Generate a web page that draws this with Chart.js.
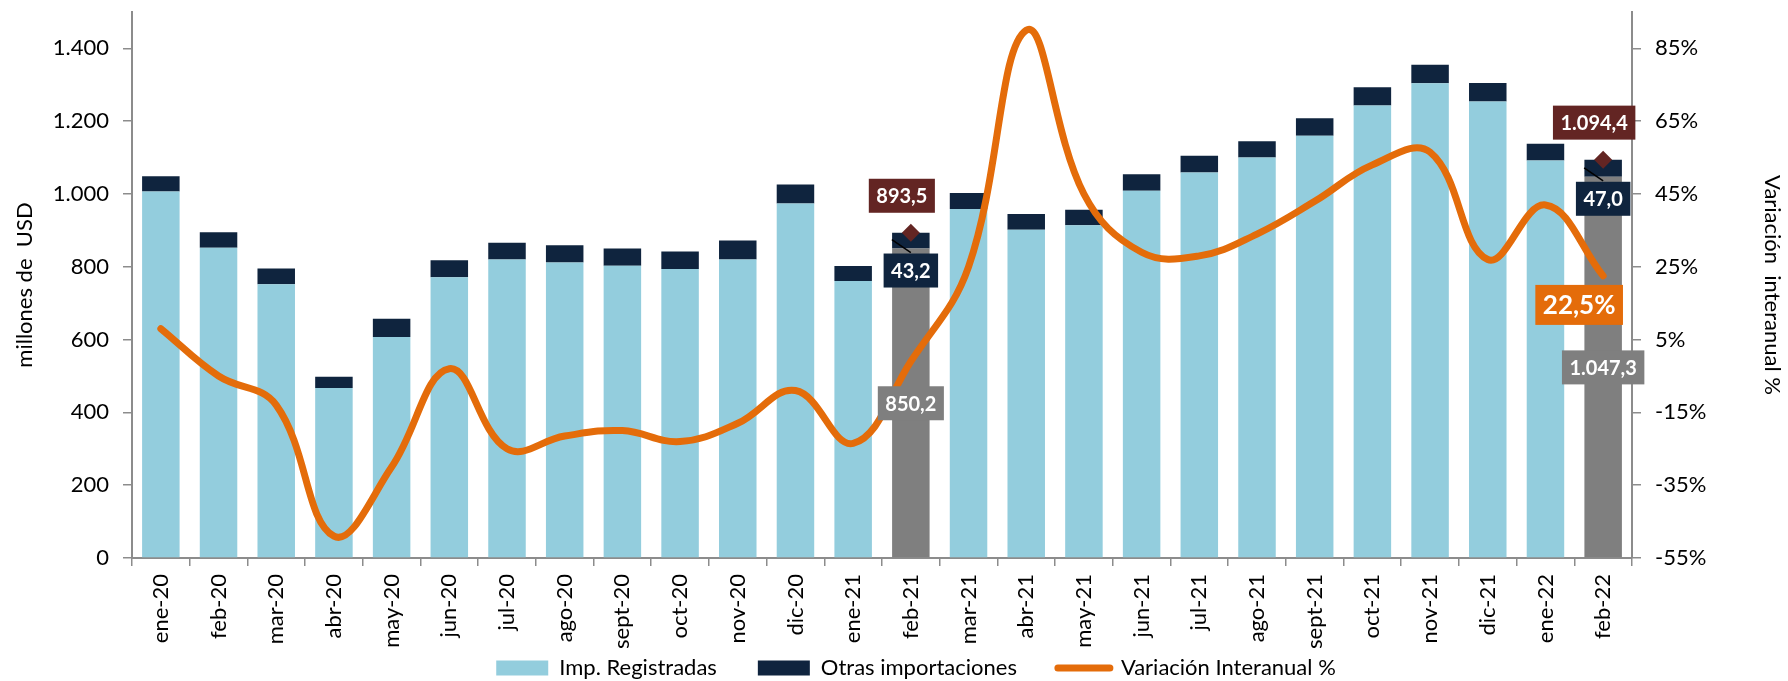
<!DOCTYPE html>
<html lang="es">
<head>
<meta charset="utf-8">
<title>Importaciones</title>
<script src="https://cdn.jsdelivr.net/npm/chart.js@4.4.1/dist/chart.umd.min.js"></script>
<style>
  body { margin: 0; background: #fff; }
  #grafico { display: block; }
</style>
</head>
<body>
<canvas id="grafico" width="1788" height="681"></canvas>
<script>
// datos (millones de USD y variacion interanual %)
const meses = ['ene-20', 'feb-20', 'mar-20', 'abr-20', 'may-20', 'jun-20', 'jul-20', 'ago-20', 'sept-20', 'oct-20', 'nov-20', 'dic-20',
    'ene-21', 'feb-21', 'mar-21', 'abr-21', 'may-21', 'jun-21', 'jul-21', 'ago-21', 'sept-21', 'oct-21', 'nov-21', 'dic-21',
    'ene-22', 'feb-22'];
const registradas = [1007, 852, 752, 467, 607, 771, 820, 812, 803, 794, 820, 974,
    761, 850.2, 959, 902, 914, 1009, 1059, 1100, 1160, 1243, 1304, 1254,
    1092, 1047.3];
const otras = [42, 43, 43, 31, 50, 47, 46, 47, 47, 48, 52, 52,
    41, 43.2, 44, 43, 43, 45, 46, 45, 48, 50, 51, 51,
    46, 47.0];
const variacion = [8, -5, -13, -49, -30, -3, -25, -21.5, -20, -23, -18, -9,
    -23.5, -1, 25, 90, 45, 29, 28, 34, 43, 53, 56.5, 27,
    42, 22.5];
// meses destacados en gris y su total
const destacados = [13, 25];
const totales = [893.5, 1094.4];
const ticksUsd = [0, 200, 400, 600, 800, 1000, 1200, 1400];
const ticksPct = [-55, -35, -15, 5, 25, 45, 65, 85];

const CELESTE = '#93CDDD';
const NAVY = '#0F243E';
const GRIS = '#7F7F7F';
const ROJO = '#632523';
const NARANJA = '#E46C0A';
const EJE = '#8C8C8C';

Chart.defaults.font.family = 'Lato';
Chart.defaults.color = '#000';

function fmtNum(v, dec) {
    const partes = v.toFixed(dec).split('.');
    const ent = partes[0].replace(/\B(?=(\d{3})+(?!\d))/g, '.');
    return partes[1] ? ent + ',' + partes[1] : ent;
}

const coloresReg = meses.map((m, i) => destacados.includes(i) ? GRIS : CELESTE);
const marcas = meses.map((m, i) => {
    const k = destacados.indexOf(i);
    return k >= 0 ? totales[k] : null;
});

function caja(ctx, texto, cx, cy, fondo, size) {
    ctx.save();
    ctx.font = 'bold ' + size + 'px Lato';
    const w = ctx.measureText(texto).width + 15;
    const h = size + 14;
    ctx.fillStyle = fondo;
    ctx.fillRect(cx - w / 2, cy - h / 2, w, h);
    ctx.fillStyle = '#fff';
    ctx.textAlign = 'center';
    ctx.textBaseline = 'middle';
    ctx.fillText(texto, cx, cy + 1);
    ctx.restore();
}

const etiquetas = {
    id: 'etiquetas',
    afterLayout(chart) {
        // la leyenda se coloca sobre el borde inferior, algo a la derecha
        const lg = chart.legend;
        lg.top -= 32;
        lg.bottom = chart.height;
        lg.height = lg.bottom - lg.top;
        lg.left += 22; lg.right += 22;
    },
    afterDatasetsDraw(chart) {
        const ctx = chart.ctx;
        const x = chart.scales.x, y = chart.scales.y, y1 = chart.scales.y1;
        const y0 = y.getPixelForValue(0);
        destacados.forEach((i, k) => {
            const cx = x.getPixelForValue(i);
            const yTot = y.getPixelForValue(totales[k]);
            const yReg = y.getPixelForValue(registradas[i]);
            ctx.save();
            ctx.strokeStyle = '#000';
            ctx.lineWidth = 1.5;
            ctx.beginPath();
            ctx.moveTo(cx - 19, yReg - 9);
            ctx.lineTo(cx, yReg + 4);
            ctx.stroke();
            ctx.restore();
            caja(ctx, fmtNum(totales[k], 1), cx - 9, yTot - 37, ROJO, 20);
            caja(ctx, fmtNum(otras[i], 1), cx, yReg + 22, NAVY, 20);
            caja(ctx, fmtNum(registradas[i], 1), cx, (yReg + y0) / 2, GRIS, 20);
        });
        const u = variacion.length - 1;
        caja(ctx, fmtNum(variacion[u], 1) + '%', x.getPixelForValue(u) - 24, y1.getPixelForValue(variacion[u]) + 29, NARANJA, 26);
    }
};

const config = {
    type: 'bar',
    data: {
        labels: meses,
        datasets: [{
            label: 'Imp. Registradas',
            data: registradas,
            backgroundColor: coloresReg,
            stack: 'imp',
            yAxisID: 'y',
            order: 2,
            barPercentage: 0.65,
            categoryPercentage: 1
        }, {
            label: 'Otras importaciones',
            data: otras,
            backgroundColor: NAVY,
            stack: 'imp',
            yAxisID: 'y',
            order: 3,
            barPercentage: 0.65,
            categoryPercentage: 1
        }, {
            type: 'line',
            label: 'Variación Interanual %',
            data: variacion,
            borderColor: NARANJA,
            backgroundColor: NARANJA,
            borderWidth: 7,
            borderCapStyle: 'round',
            borderJoinStyle: 'round',
            tension: 0.4,
            pointRadius: 0,
            yAxisID: 'y1',
            order: 1
        }, {
            type: 'line',
            label: 'Total',
            data: marcas,
            showLine: false,
            pointStyle: 'rectRot',
            pointRadius: 9,
            pointBackgroundColor: ROJO,
            pointBorderWidth: 0,
            stack: 'marcas',
            yAxisID: 'y',
            order: 0
        }]
    },
    options: {
        responsive: false,
        devicePixelRatio: 1,
        animation: false,
        layout: { padding: { top: 12, left: 0, right: 0, bottom: 0 } },
        plugins: {
            tooltip: { enabled: false },
            legend: {
                position: 'bottom',
                maxHeight: 33,
                labels: {
                    font: { size: 22 },
                    color: '#000',
                    usePointStyle: true,
                    pointStyleWidth: 52,
                    boxHeight: 15,
                    padding: 41,
                    filter: item => item.datasetIndex !== 3,
                    sort: (a, b) => a.datasetIndex - b.datasetIndex,
                    generateLabels: chart => {
                        const items = Chart.defaults.plugins.legend.labels.generateLabels(chart);
                        items.forEach(it => {
                            if (it.datasetIndex === 2) {
                                it.pointStyle = 'line';
                                it.lineCap = 'round';
                            } else {
                                it.pointStyle = 'rect';
                                it.lineWidth = 0;
                            }
                            if (it.datasetIndex === 0) it.fillStyle = CELESTE;
                        });
                        return items;
                    }
                }
            }
        },
        scales: {
            x: {
                stacked: true,
                grid: { offset: true, drawOnChartArea: false, tickLength: 8, color: EJE, lineWidth: 1.5 },
                border: { color: EJE, width: 2 },
                ticks: { minRotation: 90, maxRotation: 90, autoSkip: false, font: { size: 22 }, padding: 8 },
                afterFit: s => {
                    s.height = 90;
                    s.paddingLeft = 0; s.paddingRight = 0;
                }
            },
            y: {
                position: 'left',
                stacked: true,
                min: 0,
                max: 1500,
                afterBuildTicks: s => { s.ticks = ticksUsd.map(v => ({ value: v })); },
                grid: { drawOnChartArea: false, tickLength: 9, color: EJE, lineWidth: 1.5 },
                border: { color: EJE, width: 2 },
                ticks: { font: { size: 22 }, padding: 14, callback: v => fmtNum(v, 0) },
                title: { display: true, text: 'millones de  USD', font: { size: 22 }, padding: { top: 12, bottom: 0 } },
                afterFit: s => {
                    s.width = 132;
                    s.paddingTop = 0; s.paddingBottom = 0;
                }
            },
            y1: {
                position: 'right',
                min: -55,
                max: 95,
                afterBuildTicks: s => { s.ticks = ticksPct.map(v => ({ value: v })); },
                grid: { drawOnChartArea: false, tickLength: 9, color: EJE, lineWidth: 1.5 },
                border: { color: EJE, width: 2 },
                ticks: { font: { size: 22 }, padding: 14, callback: v => v + '%' },
                title: { display: true, text: 'Variación  interanual %', font: { size: 22 }, padding: { top: 3, bottom: 0 } },
                afterFit: s => {
                    s.width = 156;
                    s.paddingTop = 0; s.paddingBottom = 0;
                }
            }
        }
    },
    plugins: [etiquetas]
};

const grafico = new Chart(document.getElementById('grafico'), config);
</script>
</body>
</html>
